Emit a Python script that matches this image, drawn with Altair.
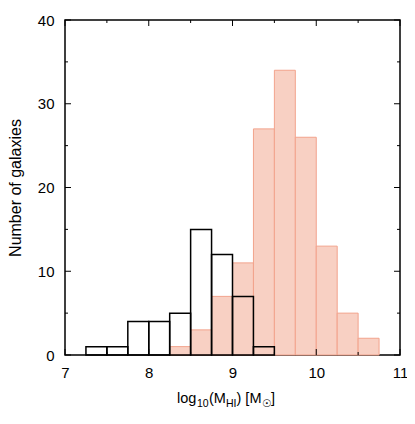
import altair as alt
import pandas as pd

# ---- data ----
bin_width = 0.25
black_starts = [7.25, 7.5, 7.75, 8.0, 8.25, 8.5, 8.75, 9.0, 9.25]
black_counts = [1, 1, 4, 4, 5, 15, 12, 7, 1]
red_starts = [8.25, 8.5, 8.75, 9.0, 9.25, 9.5, 9.75, 10.0, 10.25, 10.5]
red_counts = [1, 3, 7, 11, 27, 34, 26, 13, 5, 2]
x_major = [7, 8, 9, 10, 11]
x_minor = [7.5, 8.5, 9.5, 10.5]
y_major = [0, 10, 20, 30, 40]
y_minor = [5, 15, 25, 35]
y_title = "Number of galaxies"
x_title_parts = ["log", "10", "(M", "HI", ") [M", "\u2609", "]"]

W, H = 335, 335
FONT = "Liberation Sans"
RED_LINE = "#f2a38c"
RED_FILL = "#f8d0c3"

black_df = pd.DataFrame({"x0": black_starts, "n": black_counts})
black_df["x1"] = black_df["x0"] + bin_width
red_df = pd.DataFrame({"x0": red_starts, "n": red_counts})
red_df["x1"] = red_df["x0"] + bin_width

xs = alt.Scale(domain=[7, 11], nice=False, zero=False)
ys = alt.Scale(domain=[0, 40], nice=False)
xaxis = alt.Axis(values=x_major, title="", labelPadding=10, labelFlush=False)
yaxis = alt.Axis(values=y_major, title="", labelPadding=11)

red = alt.Chart(red_df).mark_rect(
    fill=RED_FILL, stroke=RED_LINE, strokeWidth=1
).encode(
    x=alt.X("x0:Q", scale=xs, axis=xaxis),
    x2="x1:Q",
    y=alt.Y("n:Q", scale=ys, axis=yaxis),
    y2=alt.datum(0),
)

black = alt.Chart(black_df).mark_rect(
    fillOpacity=0, stroke="black", strokeWidth=1.5
).encode(
    x=alt.X("x0:Q", scale=xs, axis=xaxis),
    x2="x1:Q",
    y=alt.Y("n:Q", scale=ys, axis=yaxis),
    y2=alt.datum(0),
)


def xticks(vals, length):
    df = pd.DataFrame({"v": vals})
    bottom = alt.Chart(df).mark_rule(color="black", strokeWidth=1).encode(
        x=alt.X("v:Q", scale=xs, axis=xaxis),
        y=alt.value(H), y2=alt.value(H - length))
    top = alt.Chart(df).mark_rule(color="black", strokeWidth=1).encode(
        x=alt.X("v:Q", scale=xs, axis=xaxis),
        y=alt.value(0), y2=alt.value(length))
    return [bottom, top]


def yticks(vals, length):
    df = pd.DataFrame({"v": vals})
    left = alt.Chart(df).mark_rule(color="black", strokeWidth=1).encode(
        y=alt.Y("v:Q", scale=ys, axis=yaxis),
        x=alt.value(0), x2=alt.value(length))
    right = alt.Chart(df).mark_rule(color="black", strokeWidth=1).encode(
        y=alt.Y("v:Q", scale=ys, axis=yaxis),
        x=alt.value(W), x2=alt.value(W - length))
    return [left, right]


ticks = xticks(x_major, 6) + xticks(x_minor, 3) + yticks(y_major, 6) + yticks(y_minor, 3)

# y title
ytitle = alt.Chart(pd.DataFrame({"t": [y_title]})).mark_text(
    font=FONT, fontSize=16, angle=270, align="center", baseline="alphabetic",
    color="black"
).encode(text="t:N", x=alt.value(-44), y=alt.value(168))

# x title composed of pieces (subscripts smaller and lower)
piece_x = [112, 132, 144, 161, 171.5, 197, 206]
piece_sub = [False, True, False, True, False, True, False]
title_layers = []
for txt, px, sub in zip(x_title_parts, piece_x, piece_sub):
    title_layers.append(
        alt.Chart(pd.DataFrame({"t": [txt]})).mark_text(
            font=FONT if txt != "\u2609" else "DejaVu Sans",
            fontSize=10.5 if sub else 14.5, align="left", baseline="alphabetic",
            color="black"
        ).encode(text="t:N", x=alt.value(px), y=alt.value(387 if sub else 383))
    )

chart = alt.layer(red, black, *ticks, ytitle, *title_layers).properties(
    width=W, height=H,
    autosize=alt.AutoSizeParams(type="none"),
    padding={"left": 57, "top": 12, "right": 7, "bottom": 60},
    background="white",
).configure_view(
    stroke="black", strokeWidth=1.5
).configure_axis(
    ticks=False, domain=False, grid=False,
    labelFont=FONT, labelFontSize=15, labelColor="black",
)

chart.save("out.html", embed_options={"renderer": "svg", "actions": False})
